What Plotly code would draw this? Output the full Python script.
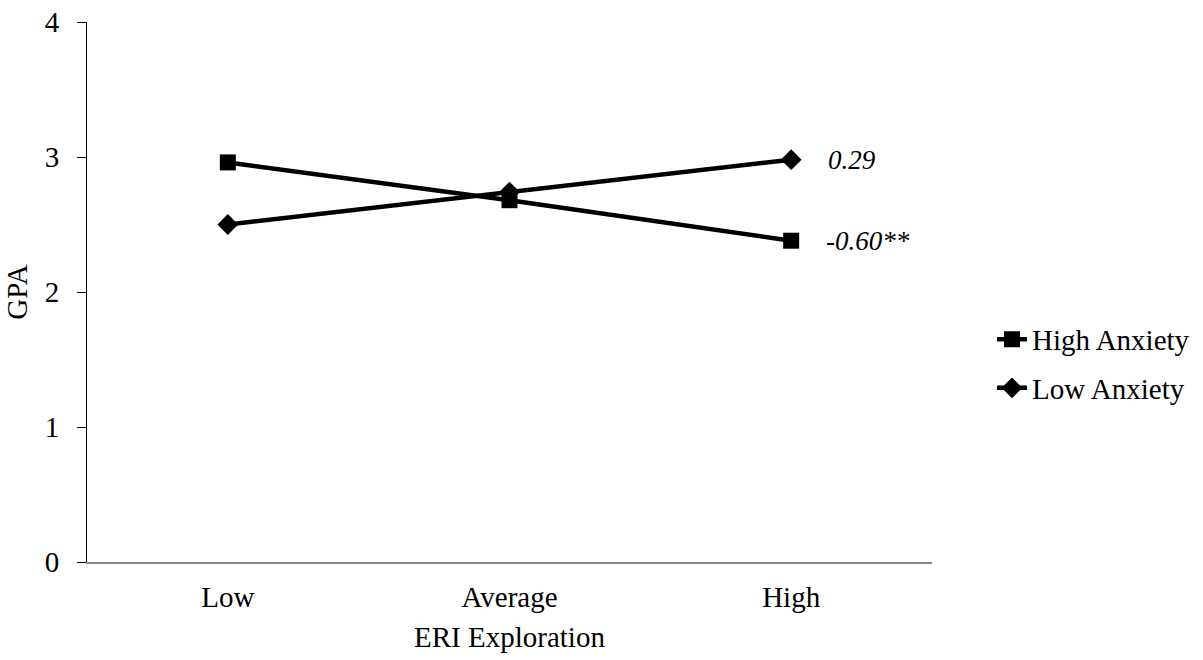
import plotly.graph_objects as go

categories = ["Low", "Average", "High"]
high_anxiety = [2.96, 2.68, 2.38]
low_anxiety = [2.50, 2.74, 2.98]
slope_labels = ["0.29", "-0.60**"]
y_ticks = [0, 1, 2, 3, 4]

FONT = "Liberation Serif, Times New Roman, serif"

fig = go.Figure()
fig.add_trace(go.Scatter(
    x=categories, y=high_anxiety, name="High Anxiety", mode="lines+markers",
    legendgroup="a",
    line=dict(color="black", width=4.5),
    marker=dict(symbol="square", size=16, color="black", opacity=1,
                line=dict(width=0)),
))
fig.add_trace(go.Scatter(
    x=categories, y=low_anxiety, name="Low Anxiety", mode="lines+markers",
    legendgroup="b",
    line=dict(color="black", width=4.5),
    marker=dict(symbol="diamond", size=16, color="black", opacity=1,
                line=dict(width=0)),
))

fig.add_annotation(x=categories[2], y=low_anxiety[2], text="<i>" + slope_labels[0] + "</i>",
                   showarrow=False, xanchor="left", xshift=35,
                   font=dict(family=FONT, size=27, color="black"))
fig.add_annotation(x=categories[2], y=high_anxiety[2], text="<i>" + slope_labels[1] + "</i>",
                   showarrow=False, xanchor="left", xshift=33,
                   font=dict(family=FONT, size=27, color="black"))

fig.update_layout(
    width=1203, height=660,
    margin=dict(l=87, r=271, t=22, b=98, autoexpand=False),
    paper_bgcolor="white", plot_bgcolor="white",
    font=dict(family=FONT, size=29, color="black"),
    showlegend=True,
    legend=dict(x=1.071, y=0.367, xanchor="left", yanchor="middle",
                font=dict(family=FONT, size=29, color="black"),
                tracegroupgap=8, bgcolor="rgba(0,0,0,0)"),
    xaxis=dict(
        type="category", range=[-0.5, 2.5],
        showline=True, linecolor="#868686", linewidth=2,
        showgrid=False, zeroline=False, ticks="",
        ticklabelstandoff=8,
        tickfont=dict(family=FONT, size=29, color="black"),
        title=dict(text="ERI Exploration", standoff=15,
                   font=dict(family=FONT, size=29, color="black")),
    ),
    yaxis=dict(
        range=[0, 4], tickvals=y_ticks, automargin=True,
        showline=True, linecolor="black", linewidth=1,
        showgrid=False, zeroline=False,
        ticks="outside", ticklen=9, tickcolor="black", tickwidth=1,
        ticklabelstandoff=12,
        tickfont=dict(family=FONT, size=29, color="black"),
        title=dict(text="GPA", standoff=8,
                   font=dict(family=FONT, size=29, color="black")),
    ),
)

fig.write_html("out.html", config={"displayModeBar": False},
               post_script="document.body.style.margin='0';")
